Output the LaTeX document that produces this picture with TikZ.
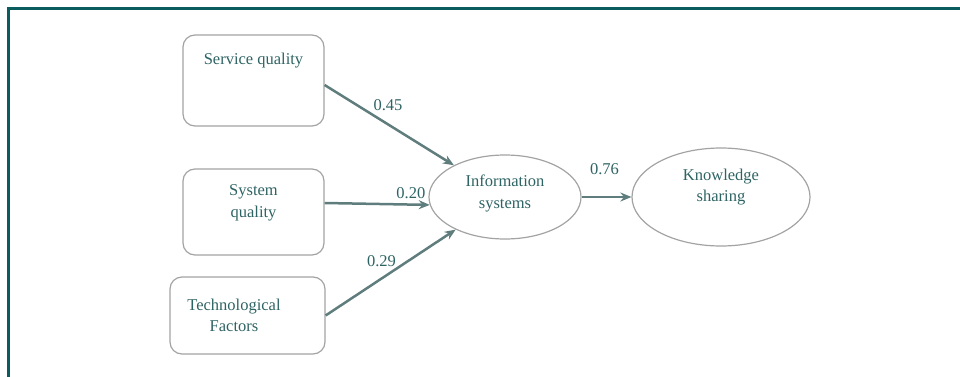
\documentclass[tikz,border=0pt]{standalone}
\usepackage{fontspec}
\setmainfont{Liberation Serif}
\usetikzlibrary{arrows.meta,shapes.geometric}
\definecolor{frameteal}{HTML}{0B5C5E}
\definecolor{linegray}{HTML}{5F7D7C}
\definecolor{textteal}{HTML}{2E6363}
\definecolor{boxgray}{HTML}{A3A3A3}
\tikzset{
  txt/.style={text=textteal,font=\fontsize{16.5}{21.5}\selectfont,align=center,inner sep=1pt},
  factor/.style={draw=boxgray,line width=1.2pt,rounded corners=12pt,minimum width=141pt,minimum height=86pt,inner sep=0pt},
  construct/.style={draw=boxgray,line width=1.2pt,ellipse,inner sep=0pt},
  path/.style={draw=linegray,line width=2.5pt,-{Stealth[length=11pt,width=9pt]}},
  coef/.style={txt}
}

\begin{document}
\begin{tikzpicture}[x=1pt,y=-1pt]
  \useasboundingbox (0,0) rectangle (960,377);
  \draw[frameteal,line width=3pt] (960,8.5) -- (8.5,8.5) -- (8.5,377);

  \node[factor,minimum height=91pt,label={[txt,yshift=19.5pt]center:Service quality}] (sq) at (253.5,80.5) {};
  \node[factor,label={[txt,yshift=9pt]center:System\\quality}] (sy) at (253.5,212) {};
  \node[factor,minimum width=155pt,minimum height=77pt,label={[txt,xshift=-13.5pt]center:Technological\\Factors}] (tf) at (247.5,315.5) {};
  \node[construct,minimum width=152pt,minimum height=84pt,label={[txt,yshift=3.5pt]center:Information\\systems}] (is) at (505,197) {};
  \node[construct,minimum width=178pt,minimum height=98pt,label={[txt,yshift=10pt]center:Knowledge\\sharing}] (ks) at (721,197) {};

  \draw[path] ([yshift=-4.5pt]sq.east) -- (is) node[coef,pos=0.49,above=11pt] {0.45};
  \draw[path] ([yshift=9pt]sy.east) -- (is.186) node[coef,pos=0.82,above=4pt] {0.20};
  \draw[path] (tf.east) -- (is) node[coef,pos=0.43,above=10pt] {0.29};
  \draw[path] (is) -- (ks) node[coef,pos=0.46,above=20pt] {0.76};
\end{tikzpicture}
\end{document}
